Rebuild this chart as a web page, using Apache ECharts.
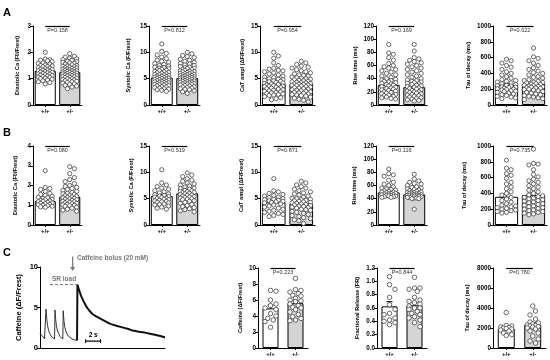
<!DOCTYPE html>
<html><head><meta charset="utf-8">
<script src="https://cdn.jsdelivr.net/npm/echarts@6/dist/echarts.min.js"></script>
<style>html,body{margin:0;padding:0;background:#fff}#c{width:550px;height:360px}</style>
</head><body><div id="c"></div>
<script>
// ---------------- DATA ----------------
const categories = ['+/+', '+/-'];

// Row A
const A1_wt = [2.0,1.75,1.72,1.7,1.68,1.65,1.6,1.58,1.55,1.52,1.5,1.48,1.46,1.45,1.42,1.4,1.38,1.36,1.35,1.33,1.32,1.3,1.28,1.27,1.25,1.24,1.22,1.2,1.18,1.17,1.15,1.13,1.12,1.1,1.08,1.06,1.05,1.02,1.0,0.98,0.95,0.92,0.88,0.85,0.8];
const A1_het = [1.95,1.85,1.82,1.78,1.75,1.72,1.7,1.66,1.64,1.62,1.6,1.58,1.55,1.53,1.5,1.48,1.47,1.45,1.44,1.42,1.4,1.39,1.37,1.36,1.35,1.33,1.32,1.3,1.29,1.28,1.26,1.25,1.24,1.22,1.21,1.2,1.19,1.18,1.16,1.15,1.14,1.12,1.11,1.1,1.08,1.07,1.05,1.04,1.02,1.0,0.99,0.97,0.95,0.93,0.92,0.9,0.88,0.85,0.83,0.8,0.78,0.75,0.72,0.68,0.62];
const A2_wt = [11.6,10.2,9.8,9.5,9.1,8.8,8.5,8.3,8.1,7.9,7.7,7.5,7.4,7.2,7.1,7.0,6.9,6.8,6.7,6.6,6.5,6.4,6.3,6.2,6.1,6.0,5.9,5.8,5.75,5.7,5.6,5.5,5.45,5.4,5.3,5.25,5.2,5.1,5.05,5.0,4.9,4.85,4.8,4.7,4.65,4.6,4.5,4.45,4.4,4.3,4.25,4.2,4.1,4.05,4.0,3.9,3.85,3.8,3.7,3.6,3.5,3.4,3.3,3.2,3.1,3.0,2.9,2.8,2.6];
const A2_het = [10.0,9.7,9.4,9.2,9.0,8.7,8.5,8.3,8.1,7.9,7.8,7.6,7.5,7.3,7.2,7.1,7.0,6.9,6.8,6.7,6.6,6.5,6.4,6.35,6.3,6.2,6.1,6.0,5.95,5.9,5.8,5.75,5.7,5.6,5.55,5.5,5.4,5.35,5.3,5.25,5.2,5.1,5.05,5.0,4.95,4.9,4.85,4.8,4.7,4.65,4.6,4.55,4.5,4.4,4.35,4.3,4.2,4.15,4.1,4.0,3.95,3.9,3.8,3.7,3.6,3.5,3.4,3.3,3.2,3.1,3.0,2.9,2.7,2.5,2.2];
const A3_wt = [10.0,9.3,8.9,8.0,7.5,7.0,6.8,6.6,6.5,6.3,6.1,5.9,5.7,5.5,5.3,5.2,5.0,4.9,4.8,4.7,4.6,4.5,4.4,4.3,4.2,4.1,4.0,3.9,3.8,3.7,3.6,3.55,3.5,3.4,3.3,3.2,3.1,3.0,2.9,2.8,2.7,2.6,2.5,2.4,2.3,2.2,2.1,2.0,1.9,1.8,1.6,1.4,1.2,1.0];
const A3_het = [8.3,8.0,7.7,7.4,7.2,7.0,6.7,6.5,6.3,6.1,5.9,5.7,5.6,5.5,5.3,5.2,5.1,5.0,4.9,4.8,4.7,4.6,4.5,4.4,4.3,4.25,4.2,4.1,4.0,3.95,3.9,3.8,3.75,3.7,3.6,3.5,3.4,3.3,3.2,3.1,3.0,2.9,2.8,2.7,2.6,2.5,2.4,2.3,2.2,2.1,2.0,1.9,1.8,1.7,1.5,1.3,1.1,0.9,0.6];
const A4_wt = [92,79,77,72,68,63,60,58,56,54,52,50,48,46,44,42,40,39,38,37,36,35,34,33,32,31,30,29,28,27,26,25,24,23,22,21,20,19,18,17,16,15,14,13,12,11,10,9];
const A4_het = [92,82,72,70,68,66,64,62,60,58,56,54,52,50,48,46,44,42,40,38,37,36,35,34,33,32,31,30,29,28,27,26,25,24,23,22,21,20,20,19,18,17,16,15,14,13,12,11,10,9,8,7,6];
const A5_wt = [580,560,530,500,480,450,420,400,380,360,340,320,310,300,290,280,270,260,250,245,240,230,225,220,210,205,200,195,190,180,175,170,160,150,140,130,120,110,100,90,80];
const A5_het = [720,610,590,560,530,500,470,450,430,410,400,380,360,350,340,320,310,300,290,285,280,270,265,260,250,245,240,235,230,225,220,215,210,200,195,190,180,170,160,150,140,130,120,110,100,90,80,70];

// Row B
const B1_wt = [2.75,1.9,1.85,1.8,1.7,1.6,1.55,1.5,1.45,1.4,1.38,1.35,1.3,1.28,1.25,1.22,1.2,1.18,1.15,1.12,1.1,1.08,1.05,1.02,1.0,0.98,0.95,0.92,0.9];
const B1_het = [2.95,2.85,2.6,2.4,2.3,2.2,2.1,2.0,1.95,1.9,1.85,1.8,1.75,1.7,1.65,1.6,1.58,1.55,1.5,1.48,1.45,1.42,1.4,1.38,1.35,1.32,1.3,1.28,1.25,1.22,1.2,1.18,1.15,1.12,1.1,1.08,1.05,1.02,1.0,0.98,0.95,0.9,0.85,0.8,0.75,0.7];
const B2_wt = [10.5,8.0,7.6,7.3,7.0,6.8,6.5,6.3,6.1,5.9,5.8,5.6,5.5,5.4,5.3,5.2,5.1,5.0,4.9,4.8,4.7,4.6,4.5,4.4,4.3,4.2,4.0,3.9,3.8,3.6,3.4,3.2,3.0];
const B2_het = [9.9,9.5,9.2,8.8,8.5,8.3,8.0,7.8,7.6,7.4,7.2,7.0,6.9,6.8,6.6,6.5,6.4,6.3,6.2,6.1,6.0,5.9,5.8,5.7,5.6,5.5,5.4,5.3,5.2,5.1,5.0,4.9,4.8,4.6,4.5,4.3,4.1,3.9,3.7,3.5,3.3,3.1,2.9,2.7,2.5];
const B3_wt = [8.8,6.5,6.3,6.0,5.8,5.6,5.5,5.3,5.2,5.0,4.9,4.8,4.7,4.6,4.5,4.4,4.3,4.2,4.0,3.8,3.6,3.4,3.2,3.0,2.8,2.6,2.4,2.2,2.0,1.8,1.6];
const B3_het = [8.3,8.0,7.6,7.3,7.0,6.8,6.5,6.3,6.1,5.9,5.7,5.5,5.3,5.1,5.0,4.9,4.8,4.7,4.6,4.5,4.4,4.3,4.2,4.1,4.0,3.9,3.8,3.7,3.6,3.5,3.4,3.3,3.2,3.0,2.9,2.8,2.6,2.4,2.2,2.0,1.8,1.6,1.4,1.2,1.0,0.8,0.3];
const B4_wt = [85,78,76,74,68,65,62,60,58,56,55,54,53,52,51,50,50,49,48,48,47,47,46,46,45,45,44,44,43,43,42,42];
const B4_het = [77,70,67,65,63,62,60,58,57,56,55,54,53,52,51,50,50,49,49,48,48,47,47,46,46,45,45,45,44,44,44,43,43,42,42,41,41,40,40,24];
const B5_wt = [820,720,700,650,630,590,540,520,480,460,420,400,380,350,330,310,290,270,250,240,230,220,210,200,190,180,170,160,150];
const B5_het = [960,780,770,760,700,640,610,580,560,540,520,500,480,460,440,420,400,380,370,360,350,340,330,320,310,300,290,280,270,260,250,240,230,220,210,200,190,180,170,160,150,140,130];

// Row C
const C1_wt = [7.2,7.1,6.0,5.5,5.3,5.0,4.8,4.3,4.0,3.7,3.5,3.3,2.6];
const C1_het = [8.7,7.3,7.2,7.0,6.8,6.6,6.5,6.2,6.0,5.9,5.8,5.5,5.3,5.1,5.0,4.8,4.5,4.2,3.9,3.7,3.5,3.4];
const C2_wt = [1.07,0.95,0.88,0.76,0.65,0.58,0.52,0.5,0.45,0.42,0.4,0.38,0.35];
const C2_het = [1.06,0.9,0.9,0.88,0.85,0.76,0.72,0.7,0.68,0.66,0.63,0.6,0.6,0.58,0.55,0.52,0.5,0.47,0.45,0.42,0.38,0.32];
const C3_wt = [3550,2250,2200,2100,2050,2000,1950,1900,1800,1700,1500,1350,1250];
const C3_het = [4200,3700,3300,2900,2600,2500,2400,2300,2250,2200,2150,2100,2000,1900,1700,1500,1200,900,700,500];

// Bar means and SEM, per panel [+/+, +/-]
const means = [[1.30,1.25],[5.2,5.1],[4.1,4.0],[30.5,27],[254,267],
               [1.21,1.43],[5.5,6.0],[4.3,4.1],[49.5,46.5],[357,378],
               [4.95,5.6],[0.625,0.64],[1930,2330]];
const sems  = [[0.03,0.025],[0.2,0.18],[0.2,0.18],[2.0,1.8],[14,15],
               [0.06,0.06],[0.25,0.22],[0.25,0.22],[1.5,1.0],[35,30],
               [0.4,0.3],[0.07,0.04],[170,200]];

const yNames = ['Diastolic Ca (F0/Frest)','Systolic Ca (F/Frest)','CaT ampl (ΔF/Frest)','Rise time (ms)','Tau of decay (ms)',
                'Diastolic Ca (F0/Frest)','Systolic Ca (F/Frest)','CaT ampl (ΔF/Frest)','Rise time (ms)','Tau of decay (ms)',
                'Caffeine (ΔF/Frest)','Fractional Release (FR)','Tau of decay (ms)'];
const yMax = [3,15,15,120,1000, 4,15,15,120,1000, 10,1.2,8000];
const yStep = [1,5,5,20,200, 1,5,5,20,200, 2,0.2,2000];
const pValues = ['0.158','0.812','0.954','0.169','0.622','0.080','0.519','0.871','0.116','0.735','0.223','0.844','0.780'];

// Caffeine trace (time s, ΔF/Frest)
const traceT = [0,0.3,0.6,0.75,0.8,0.9,1.0,1.15,1.3,1.5,1.7,1.95,2.0,2.1,2.2,2.35,2.5,2.7,2.9,3.05,3.1,3.2,3.3,3.45,3.6,3.8,4.0,4.3,4.6,4.95,5.0,5.2,5.5,5.8,6.2,6.6,7.0,7.5,8.0,8.5,9.0,9.5,10.2,11.0,11.8,12.4,13.2,14.0,14.7,15.5,16.2,16.7];
const traceV = [1.8,1.5,1.15,1.1,4.8,3.6,2.8,2.2,1.8,1.45,1.25,1.1,4.7,3.5,2.7,2.1,1.75,1.4,1.2,1.1,4.6,3.4,2.65,2.1,1.75,1.45,1.25,1.1,1.0,0.95,7.85,7.2,6.4,5.8,5.1,4.6,4.2,3.9,3.65,3.4,3.15,2.95,2.75,2.55,2.35,2.15,2.0,1.9,1.77,1.6,1.45,1.3];
const srLoadT = [1.33, 4.95];

// ---------------- LAYOUT ----------------
const FONT = '"Liberation Sans", Arial, Helvetica, sans-serif';
const colLeftAB = [33,149,260,376,493], colWAB = [49,51,55,51,54];
const lefts  = [...colLeftAB, ...colLeftAB, 258,377,493];
const widths = [...colWAB, ...colWAB, 50,50,53];
const tops   = [26,26,26,26,26, 146,146,146,146,146, 268,268,268];
const heights= [79,79,79,79,79, 79,79,79,79,79, 80,80,80];
const nameGaps = [13,18,15,18,22, 15,15,16,19,26, 15,17,23];
const gapPct = ['14%','14%','14%','14%','14%','14%','14%','14%','14%','14%','36%','36%','36%'];

const groups = [[A1_wt,A1_het],[A2_wt,A2_het],[A3_wt,A3_het],[A4_wt,A4_het],[A5_wt,A5_het],
                [B1_wt,B1_het],[B2_wt,B2_het],[B3_wt,B3_het],[B4_wt,B4_het],[B5_wt,B5_het],
                [C1_wt,C1_het],[C2_wt,C2_het],[C3_wt,C3_het]];

// beeswarm horizontal offsets (pixels) to avoid overlap
function swarm(values, max, hPx, halfW, d) {
  const placed = [], out = [];
  const step = d * 0.5;
  values.forEach(v => {
    const y = v / max * hPx;
    let chosen = null, bestCand = 0, bestDist = -1;
    for (let k = 0; k < 80; k++) {
      const cand = k === 0 ? 0 : (k % 2 ? 1 : -1) * Math.ceil(k / 2) * step;
      if (Math.abs(cand) > halfW) break;
      let md = Infinity;
      for (const p of placed) { const dd = Math.hypot(p.x - cand, p.y - y); if (dd < md) md = dd; }
      if (md >= d) { chosen = cand; break; }
      if (md > bestDist) { bestDist = md; bestCand = cand; }
    }
    if (chosen === null) chosen = bestCand;
    placed.push({x: chosen, y});
    out.push(chosen);
  });
  return out;
}

const grids = [], xAxes = [], yAxes = [], series = [];
const axisLineStyle = {color: '#000', width: 1};
for (let i = 0; i < 13; i++) {
  grids.push({left: lefts[i], top: tops[i], width: widths[i], height: heights[i], containLabel: false, outerBoundsMode: 'none'});
  xAxes.push({type: 'category', gridIndex: i, data: categories,
    axisLine: {show: true, onZero: false, lineStyle: axisLineStyle},
    axisTick: {show: true, alignWithLabel: true, length: 2, lineStyle: axisLineStyle},
    axisLabel: {fontSize: 6, fontWeight: 'bold', color: '#000', margin: 3, fontFamily: FONT}});
  xAxes.push({type: 'value', gridIndex: i, min: -0.5, max: 1.5, show: false});
  const step = yStep[i];
  yAxes.push({type: 'value', gridIndex: i, min: 0, max: yMax[i], interval: step,
    name: yNames[i], nameLocation: 'middle', nameGap: nameGaps[i], nameRotate: 90,
    nameTextStyle: {fontSize: 5.6, fontWeight: 'bold', color: '#000', fontFamily: FONT},
    axisLine: {show: true, onZero: false, lineStyle: axisLineStyle},
    axisTick: {show: true, length: 3, lineStyle: axisLineStyle},
    axisLabel: {fontSize: 6.3, fontWeight: 'bold', color: '#000', margin: 2, fontFamily: FONT,
      formatter: v => step < 1 ? v.toFixed(1) : String(Math.round(v))},
    splitLine: {show: false}});

  series.push({type: 'bar', xAxisIndex: 2 * i, yAxisIndex: i, barCategoryGap: gapPct[i], silent: true,
    data: [{value: means[i][0], itemStyle: {color: '#fff'}}, {value: means[i][1], itemStyle: {color: '#d4d4d4'}}],
    itemStyle: {borderColor: '#000', borderWidth: 1}});

  const bandPx = widths[i] / 2;
  const barFrac = 1 - parseFloat(gapPct[i]) / 100;
  const halfW = bandPx * barFrac / 2 - 2;
  const pts = [];
  groups[i].forEach((vals, g) => {
    const offs = swarm(vals, yMax[i], heights[i], halfW, i >= 10 ? 5.5 : 4.6);
    vals.forEach((v, k) => pts.push([g + offs[k] / bandPx, v]));
  });
  series.push({type: 'scatter', xAxisIndex: 2 * i + 1, yAxisIndex: i, data: pts, symbol: 'circle', symbolSize: i >= 10 ? 4.5 : 4.2, silent: true,
    itemStyle: {color: '#fff', borderColor: '#3a3a3a', borderWidth: 0.75, opacity: 1},
    markLine: {silent: true, symbol: ['none', 'none'], animation: false,
      lineStyle: {color: '#000', width: 1.2, type: 'solid'},
      label: {show: true, position: 'insideMiddleBottom', formatter: 'P=' + pValues[i], fontSize: 5.5, color: '#333', distance: 1.5, fontFamily: FONT},
      data: [[{coord: [0, yMax[i]]}, {coord: [1, yMax[i]]}]]}});

  series.push({type: 'custom', xAxisIndex: 2 * i + 1, yAxisIndex: i, silent: true,
    data: [[0, means[i][0], sems[i][0]], [1, means[i][1], sems[i][1]]],
    renderItem: (params, api) => {
      const x = api.value(0), m = api.value(1), s = api.value(2);
      const top = api.coord([x, m + s]), bot = api.coord([x, m - s]);
      const st = {stroke: '#000', lineWidth: 1};
      return {type: 'group', children: [
        {type: 'line', shape: {x1: top[0], y1: top[1], x2: bot[0], y2: bot[1]}, style: st},
        {type: 'line', shape: {x1: top[0] - 3, y1: top[1], x2: top[0] + 3, y2: top[1]}, style: st}
      ]};
    }});
}

// Trace grid
const TG = 13;
grids.push({left: 40, top: 267, width: 125, height: 81, containLabel: false, outerBoundsMode: 'none'});
xAxes.push({type: 'value', gridIndex: TG, min: 0, max: 16.7,
  axisLine: {show: true, onZero: false, lineStyle: axisLineStyle}, axisTick: {show: false}, axisLabel: {show: false}, splitLine: {show: false}});
yAxes.push({type: 'value', gridIndex: TG, min: 0, max: 10, interval: 5,
  name: 'Caffeine (ΔF/Frest)', nameLocation: 'middle', nameGap: 17, nameRotate: 90,
  nameTextStyle: {fontSize: 7.5, fontWeight: 'bold', color: '#000', fontFamily: FONT},
  axisLine: {show: true, onZero: false, lineStyle: axisLineStyle},
  axisTick: {show: true, length: 3, lineStyle: axisLineStyle},
  axisLabel: {fontSize: 7.5, fontWeight: 'bold', color: '#000', margin: 2, fontFamily: FONT},
  splitLine: {show: false}});
const tracePts = traceT.map((t, k) => [t, traceV[k]]);
const cafStart = traceT.indexOf(4.95);
series.push({type: 'line', xAxisIndex: 2 * 13, yAxisIndex: TG, data: tracePts.slice(0, cafStart + 1), showSymbol: false, silent: true,
  lineStyle: {color: '#333', width: 1}, 
  markLine: {silent: true, symbol: ['none','none'], animation: false,
    lineStyle: {color: '#777', width: 1.2, type: [3, 2]},
    label: {show: true, position: 'insideStartTop', formatter: 'SR load', fontSize: 6.5, fontWeight: 'bold', color: '#777', distance: 2, fontFamily: FONT},
    data: [[{coord: [srLoadT[0], traceV[cafStart + 1]]}, {coord: [srLoadT[1], traceV[cafStart + 1]]}]]}});
series.push({type: 'line', xAxisIndex: 2 * 13, yAxisIndex: TG, data: tracePts.slice(cafStart), showSymbol: false, silent: true,
  lineStyle: {color: '#111', width: 2}});

const chart = echarts.init(document.getElementById('c'), null, {renderer: 'canvas'});
chart.setOption({animation: false, backgroundColor: '#fff', grid: grids, xAxis: xAxes, yAxis: yAxes, series: series});

// annotations (positioned in data units of the trace panel)
const P = (t, y) => chart.convertToPixel({gridIndex: TG}, [t, y]);
const a0 = P(4.36, 11.3), a1 = P(4.36, 9.5);
const txt = P(4.95, 11.05);
const s0 = P(6.1, 0.85), s1 = P(8.1, 0.85);
const gray = '#777';
chart.setOption({graphic: [
  {type: 'text', left: 3, top: 7, style: {text: 'A', font: 'bold 11px ' + FONT, fill: '#000'}},
  {type: 'text', left: 3, top: 127, style: {text: 'B', font: 'bold 11px ' + FONT, fill: '#000'}},
  {type: 'text', left: 3, top: 247, style: {text: 'C', font: 'bold 11px ' + FONT, fill: '#000'}},
  {type: 'line', shape: {x1: a0[0], y1: a0[1], x2: a1[0], y2: a1[1] - 3}, style: {stroke: gray, lineWidth: 1.2}},
  {type: 'polygon', shape: {points: [[a1[0] - 2.5, a1[1] - 4], [a1[0] + 2.5, a1[1] - 4], [a1[0], a1[1]]]}, style: {fill: gray}},
  {type: 'text', x: txt[0], y: txt[1], style: {text: 'Caffeine bolus (20 mM)', font: 'bold 6.5px ' + FONT, fill: gray, verticalAlign: 'middle'}},
  {type: 'line', shape: {x1: s0[0], y1: s0[1], x2: s1[0], y2: s1[1]}, style: {stroke: '#000', lineWidth: 1.2}},
  {type: 'line', shape: {x1: s0[0], y1: s0[1] - 2, x2: s0[0], y2: s0[1] + 2}, style: {stroke: '#000', lineWidth: 1}},
  {type: 'line', shape: {x1: s1[0], y1: s1[1] - 2, x2: s1[0], y2: s1[1] + 2}, style: {stroke: '#000', lineWidth: 1}},
  {type: 'text', x: (s0[0] + s1[0]) / 2, y: s0[1] - 2, style: {text: '2 s', font: 'bold 6.5px ' + FONT, fill: '#000', align: 'center', verticalAlign: 'bottom'}}
]});
</script></body></html>
